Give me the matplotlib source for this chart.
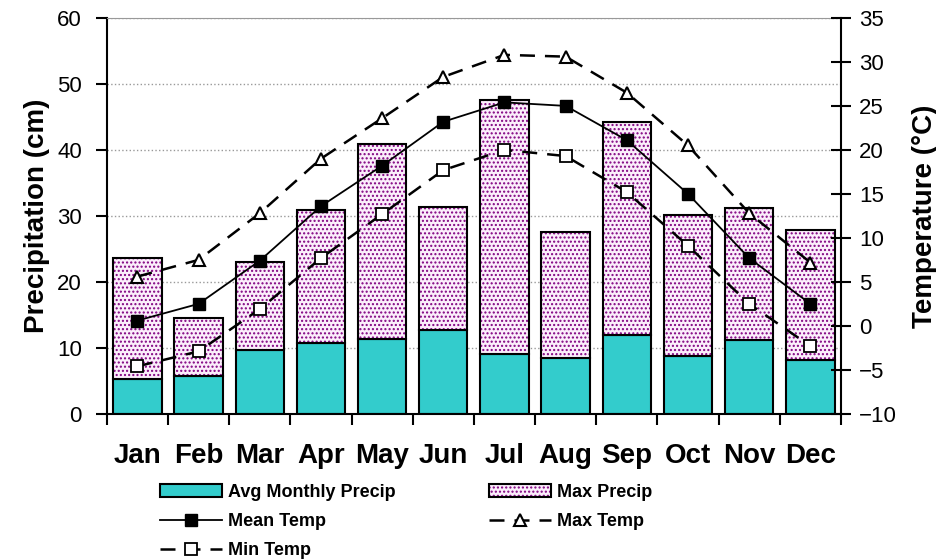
import numpy as np
import matplotlib
matplotlib.use("Agg")
import matplotlib.pyplot as plt
from matplotlib.legend_handler import HandlerTuple

months = ["Jan", "Feb", "Mar", "Apr", "May", "Jun", "Jul", "Aug", "Sep", "Oct", "Nov", "Dec"]
avg_precip = [5.3, 5.7, 9.6, 10.8, 11.4, 12.7, 9.0, 8.4, 12.0, 8.7, 11.2, 8.1]
max_precip = [23.6, 14.5, 23.0, 30.9, 40.9, 31.3, 47.6, 27.6, 44.2, 30.2, 31.2, 27.9]
mean_temp = [0.6, 2.5, 7.4, 13.6, 18.2, 23.2, 25.4, 25.0, 21.1, 15.0, 7.7, 2.5]
max_temp = [5.6, 7.5, 12.8, 19.0, 23.6, 28.3, 30.8, 30.6, 26.5, 20.5, 12.8, 7.2]
min_temp = [-4.6, -2.9, 1.9, 7.7, 12.7, 17.7, 20.0, 19.3, 15.2, 9.1, 2.5, -2.3]

plt.rcParams["font.family"] = ["Liberation Sans", "DejaVu Sans"]
plt.rcParams["hatch.linewidth"] = 1.0

fig = plt.figure(figsize=(9.37, 5.6), dpi=100)
ax = fig.add_axes([0.114, 0.261, 0.7835, 0.707])
x = np.arange(len(months))
w = 0.79

teal = "#33CCCC"
purple = "#800080"
b1 = ax.bar(x, avg_precip, w, color=teal, edgecolor="black", linewidth=1.5, zorder=2)
# dotted part sits on top of the average bar, up to the max value
extra = np.array(max_precip) - np.array(avg_precip)
b2 = ax.bar(x, extra, w, bottom=avg_precip, color="#fbeefb", edgecolor=purple,
            hatch="....", linewidth=0, zorder=2)
b3 = ax.bar(x, extra, w, bottom=avg_precip, fill=False, edgecolor="black",
            linewidth=1.5, zorder=3)

ax.set_xlim(-0.5, 11.5)
ax.set_ylim(0, 60)
ax.set_yticks(range(0, 61, 10))
ax.yaxis.grid(True, color="#999999", linestyle=":", linewidth=1)
ax.set_axisbelow(True)
ax.set_xticks(x)
ax.set_xticklabels(months, fontsize=20, fontweight="bold")
ax.set_xticks(np.arange(-0.5, 12, 1), minor=True)
ax.tick_params(axis="x", which="major", length=0, pad=21)
ax.tick_params(axis="x", which="minor", length=8, width=1.5)
ax.tick_params(axis="y", labelsize=16, length=8, width=1.5, pad=10)
ax.set_ylabel("Precipitation (cm)", fontsize=20, fontweight="bold", labelpad=5)
for s in ["left", "bottom"]:
    ax.spines[s].set_linewidth(1.5)
ax.spines["top"].set_color("#999999")
ax.spines["right"].set_visible(False)

ax2 = ax.twinx()
l1, = ax2.plot(x, mean_temp, "-", color="black", marker="s", markersize=8,
               markerfacecolor="black", linewidth=1.3)
l2, = ax2.plot(x, max_temp, color="black", linestyle=(0, (6, 4)), marker="^",
               markersize=9, markerfacecolor="white", markeredgewidth=1.5, linewidth=1.8)
l3, = ax2.plot(x, min_temp, color="black", linestyle=(0, (6, 4)), marker="s",
               markersize=8, markerfacecolor="white", markeredgewidth=1.3, linewidth=1.8)
ax2.set_ylim(-10, 35)
ax2.set_yticks(range(-10, 36, 5))
ax2.tick_params(axis="y", labelsize=16, direction="inout", length=14, width=1.5, pad=6)
ax2.set_ylabel("Temperature (°C)", fontsize=20, fontweight="bold", labelpad=11)
ax2.spines["right"].set_linewidth(1.5)
for s in ["top", "left", "bottom"]:
    ax2.spines[s].set_visible(False)

handles = [b1, l1, l3, (b2, b3), l2]
labels = ["Avg Monthly Precip", "Mean Temp", "Min Temp", "Max Precip", "Max Temp"]
fig.legend(handles, labels, ncol=2, loc="upper left", bbox_to_anchor=(0.171, 0.136),
           frameon=False, prop={"weight": "bold", "size": 13}, handlelength=3.4,
           columnspacing=5.2, labelspacing=0.68, handletextpad=0.35,
           borderpad=0, borderaxespad=0,
           handler_map={tuple: HandlerTuple(ndivide=1, pad=0)})

fig.savefig("out.png", dpi=100)
